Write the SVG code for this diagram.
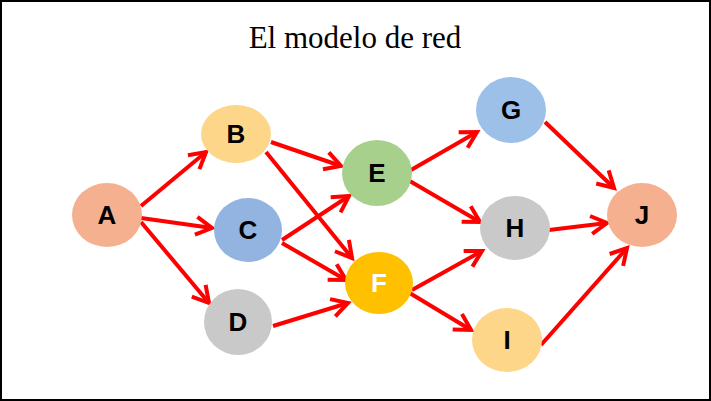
<svg xmlns="http://www.w3.org/2000/svg" width="711" height="401" viewBox="0 0 711 401">
<style>
.lbl{font-family:"Liberation Sans",Arial,sans-serif;font-weight:bold;font-size:26px;text-anchor:middle;fill:#000}
.title{font-family:"Liberation Serif","Times New Roman",serif;font-size:31px;text-anchor:middle;fill:#000}
.edge{stroke:#ff0000;stroke-width:4;fill:none;marker-end:url(#arr)}
</style>
<defs>
<marker id="arr" markerUnits="userSpaceOnUse" markerWidth="26" markerHeight="26" viewBox="0 0 26 26" refX="22" refY="13" orient="auto">
<path d="M6,4 L22,13 L6,22" fill="none" stroke="#ff0000" stroke-width="4" stroke-linejoin="miter"/>
</marker>
</defs>
<rect x="1" y="1" width="709" height="399" fill="#fff" stroke="#000" stroke-width="2"/>
<text class="title" x="355" y="48">El modelo de red</text>
<g id="connectors">
<line class="edge" x1="141" y1="206" x2="206" y2="152"/>
<line class="edge" x1="141" y1="218" x2="212" y2="228"/>
<line class="edge" x1="141" y1="222" x2="209" y2="303"/>
<line class="edge" x1="271" y1="142" x2="341" y2="166"/>
<line class="edge" x1="266" y1="152" x2="352" y2="258"/>
<line class="edge" x1="282" y1="240" x2="349" y2="196"/>
<line class="edge" x1="282" y1="243" x2="346" y2="280"/>
<line class="edge" x1="273" y1="326" x2="348" y2="303"/>
<line class="edge" x1="411" y1="170" x2="477" y2="132"/>
<line class="edge" x1="408" y1="180" x2="480" y2="222"/>
<line class="edge" x1="412" y1="290" x2="482" y2="251"/>
<line class="edge" x1="408" y1="292" x2="471" y2="330"/>
<line class="edge" x1="545" y1="122" x2="614" y2="188"/>
<line class="edge" x1="549" y1="230" x2="607" y2="223"/>
<line class="edge" x1="541" y1="345" x2="627" y2="248"/>
</g>
<g id="A"><ellipse cx="107" cy="215" rx="35" ry="32" fill="#f4b08f"/><text class="lbl" x="107" y="224">A</text></g>
<g id="B"><ellipse cx="236" cy="134" rx="35" ry="29" fill="#fed68a"/><text class="lbl" x="236" y="143">B</text></g>
<g id="C"><ellipse cx="248" cy="230" rx="34" ry="32" fill="#93b3e0"/><text class="lbl" x="248" y="239">C</text></g>
<g id="D"><ellipse cx="238" cy="322" rx="34" ry="33" fill="#c9c9c9"/><text class="lbl" x="238" y="331">D</text></g>
<g id="E"><ellipse cx="377" cy="173" rx="35" ry="33" fill="#a8d08d"/><text class="lbl" x="377" y="182">E</text></g>
<g id="F"><ellipse cx="379" cy="283" rx="34" ry="31" fill="#ffc000"/><text class="lbl" x="379" y="292" style="fill:#fff">F</text></g>
<g id="G"><ellipse cx="511" cy="110" rx="35" ry="33" fill="#9dc0e8"/><text class="lbl" x="511" y="119">G</text></g>
<g id="H"><ellipse cx="515" cy="228" rx="35" ry="32" fill="#c9c9c9"/><text class="lbl" x="515" y="237">H</text></g>
<g id="I"><ellipse cx="507" cy="340" rx="35" ry="32" fill="#fed68a"/><text class="lbl" x="507" y="349">I</text></g>
<g id="J"><ellipse cx="642" cy="215" rx="35" ry="32" fill="#f4b08f"/><text class="lbl" x="642" y="224">J</text></g>
</svg>
